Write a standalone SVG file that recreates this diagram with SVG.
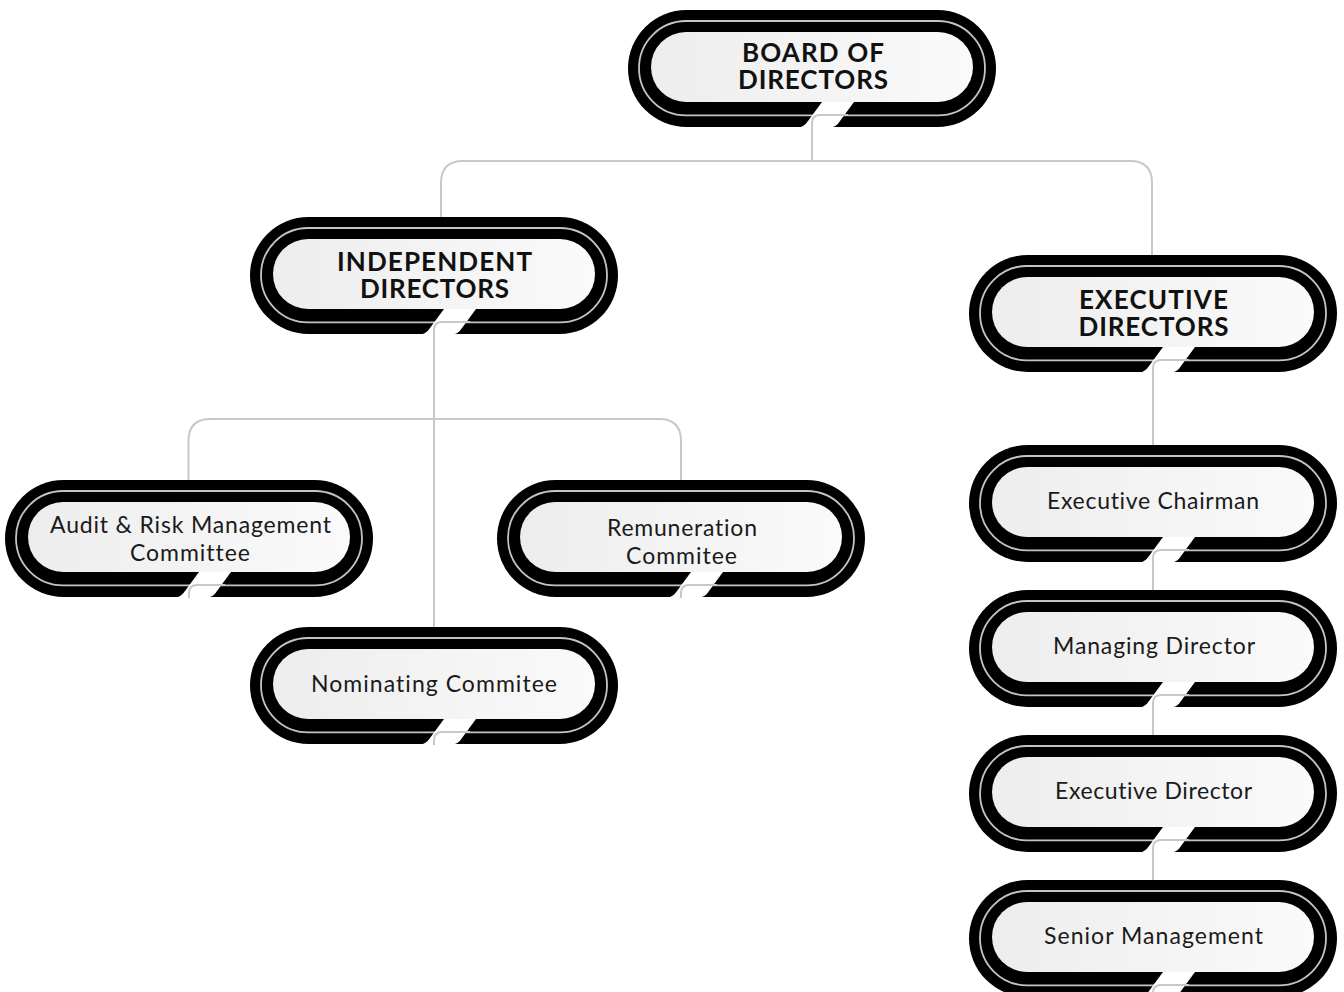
<svg xmlns="http://www.w3.org/2000/svg" xmlns:xlink="http://www.w3.org/1999/xlink" width="1344" height="992" viewBox="0 0 1344 992">
<defs>
<linearGradient id="fillGrad" x1="0" y1="0" x2="1" y2="0">
<stop offset="0" stop-color="#ededed"/>
<stop offset="1" stop-color="#fafafb"/>
</linearGradient>
<g id="pill">
<rect x="-184" y="-57" width="368" height="117" rx="58.5" fill="#000"/>
<rect x="-173" y="-46" width="346" height="94.3" rx="47" fill="none" stroke="#c4c4c4" stroke-width="1.8"/>
<rect x="-161" y="-35" width="322" height="70" rx="35" fill="url(#fillGrad)"/>
<path d="M10,35 L42,35 L28,54 Q24,61 16,61 L-16,61 Q-8,60.5 -4,54 Z" fill="#fff"/>
</g>
</defs>
<style>
text{font-variant-ligatures:none;font-feature-settings:"liga" 0,"clig" 0}
.bold{font-family:Lato,"Liberation Sans",sans-serif;font-weight:700;font-size:26px;fill:#111;text-anchor:middle}
.reg{font-family:Lato,"Liberation Sans",sans-serif;font-weight:400;font-size:23px;fill:#1a1a1a;text-anchor:middle}
.conn{fill:none;stroke:#c8c8c8;stroke-width:2}
</style>
<rect width="1344" height="992" fill="#fff"/>
<g id="node-board" transform="translate(812,67)">
<use xlink:href="#pill"/>
<text class="bold"><tspan x="1" y="-5.5" textLength="142" lengthAdjust="spacing">BOARD OF</tspan><tspan x="1" y="21.5" textLength="150" lengthAdjust="spacing">DIRECTORS</tspan></text>
</g>
<g id="node-independent" transform="translate(434,274)">
<use xlink:href="#pill"/>
<text class="bold"><tspan x="0.5" y="-3" textLength="195" lengthAdjust="spacing">INDEPENDENT</tspan><tspan x="0.5" y="24" textLength="149" lengthAdjust="spacing">DIRECTORS</tspan></text>
</g>
<g id="node-executive" transform="translate(1153,312)">
<use xlink:href="#pill"/>
<text class="bold"><tspan x="0.5" y="-3" textLength="149" lengthAdjust="spacing">EXECUTIVE</tspan><tspan x="0.5" y="23.5" textLength="150" lengthAdjust="spacing">DIRECTORS</tspan></text>
</g>
<g id="node-audit" transform="translate(189,537)">
<use xlink:href="#pill"/>
<text class="reg"><tspan x="1.5" y="-4" textLength="281" lengthAdjust="spacing">Audit &amp; Risk Management</tspan><tspan x="1" y="23.5" textLength="120" lengthAdjust="spacing">Committee</tspan></text>
</g>
<g id="node-remuneration" transform="translate(681,537)">
<use xlink:href="#pill"/>
<text class="reg"><tspan x="1" y="-1" textLength="150" lengthAdjust="spacing">Remuneration</tspan><tspan x="0.5" y="26.5" textLength="111" lengthAdjust="spacing">Commitee</tspan></text>
</g>
<g id="node-nominating" transform="translate(434,684)">
<use xlink:href="#pill"/>
<text class="reg" x="0" y="7.5" textLength="246" lengthAdjust="spacing">Nominating Commitee</text>
</g>
<g id="node-chairman" transform="translate(1153,502)">
<use xlink:href="#pill"/>
<text class="reg" x="0" y="6.5" textLength="212" lengthAdjust="spacing">Executive Chairman</text>
</g>
<g id="node-managing" transform="translate(1153,647)">
<use xlink:href="#pill"/>
<text class="reg" x="1" y="6.5" textLength="202" lengthAdjust="spacing">Managing Director</text>
</g>
<g id="node-execdirector" transform="translate(1153,792)">
<use xlink:href="#pill"/>
<text class="reg" x="0.5" y="6.5" textLength="197" lengthAdjust="spacing">Executive Director</text>
</g>
<g id="node-senior" transform="translate(1153,937)">
<use xlink:href="#pill"/>
<text class="reg" x="0.5" y="6.5" textLength="219" lengthAdjust="spacing">Senior Management</text>
</g>
<g id="connectors">
<path class="conn" d="M848,115 H820 Q812,115 812,123 V161"/>
<path class="conn" d="M441,217 V183 Q441,161 463,161 H1130 Q1152,161 1152,183 V255"/>
<path class="conn" d="M470,322 H442 Q434,322 434,330 V627"/>
<path class="conn" d="M188.5,480 V441 Q188.5,419 210.5,419 H659 Q681,419 681,441 V480"/>
<path class="conn" d="M1189,360 H1161 Q1153,360 1153,368 V445"/>
<path class="conn" d="M1189,550 H1161 Q1153,550 1153,558 V590"/>
<path class="conn" d="M1189,695 H1161 Q1153,695 1153,703 V735"/>
<path class="conn" d="M1189,840 H1161 Q1153,840 1153,848 V880"/>
<path class="conn" d="M1189,985 H1161 Q1153,985 1153,993 V1000"/>
<path class="conn" d="M225,585 H197 Q189,585 189,593 V598"/>
<path class="conn" d="M717,585 H689 Q681,585 681,593 V598"/>
<path class="conn" d="M470,732 H442 Q434,732 434,740 V745"/>
</g>
</svg>
